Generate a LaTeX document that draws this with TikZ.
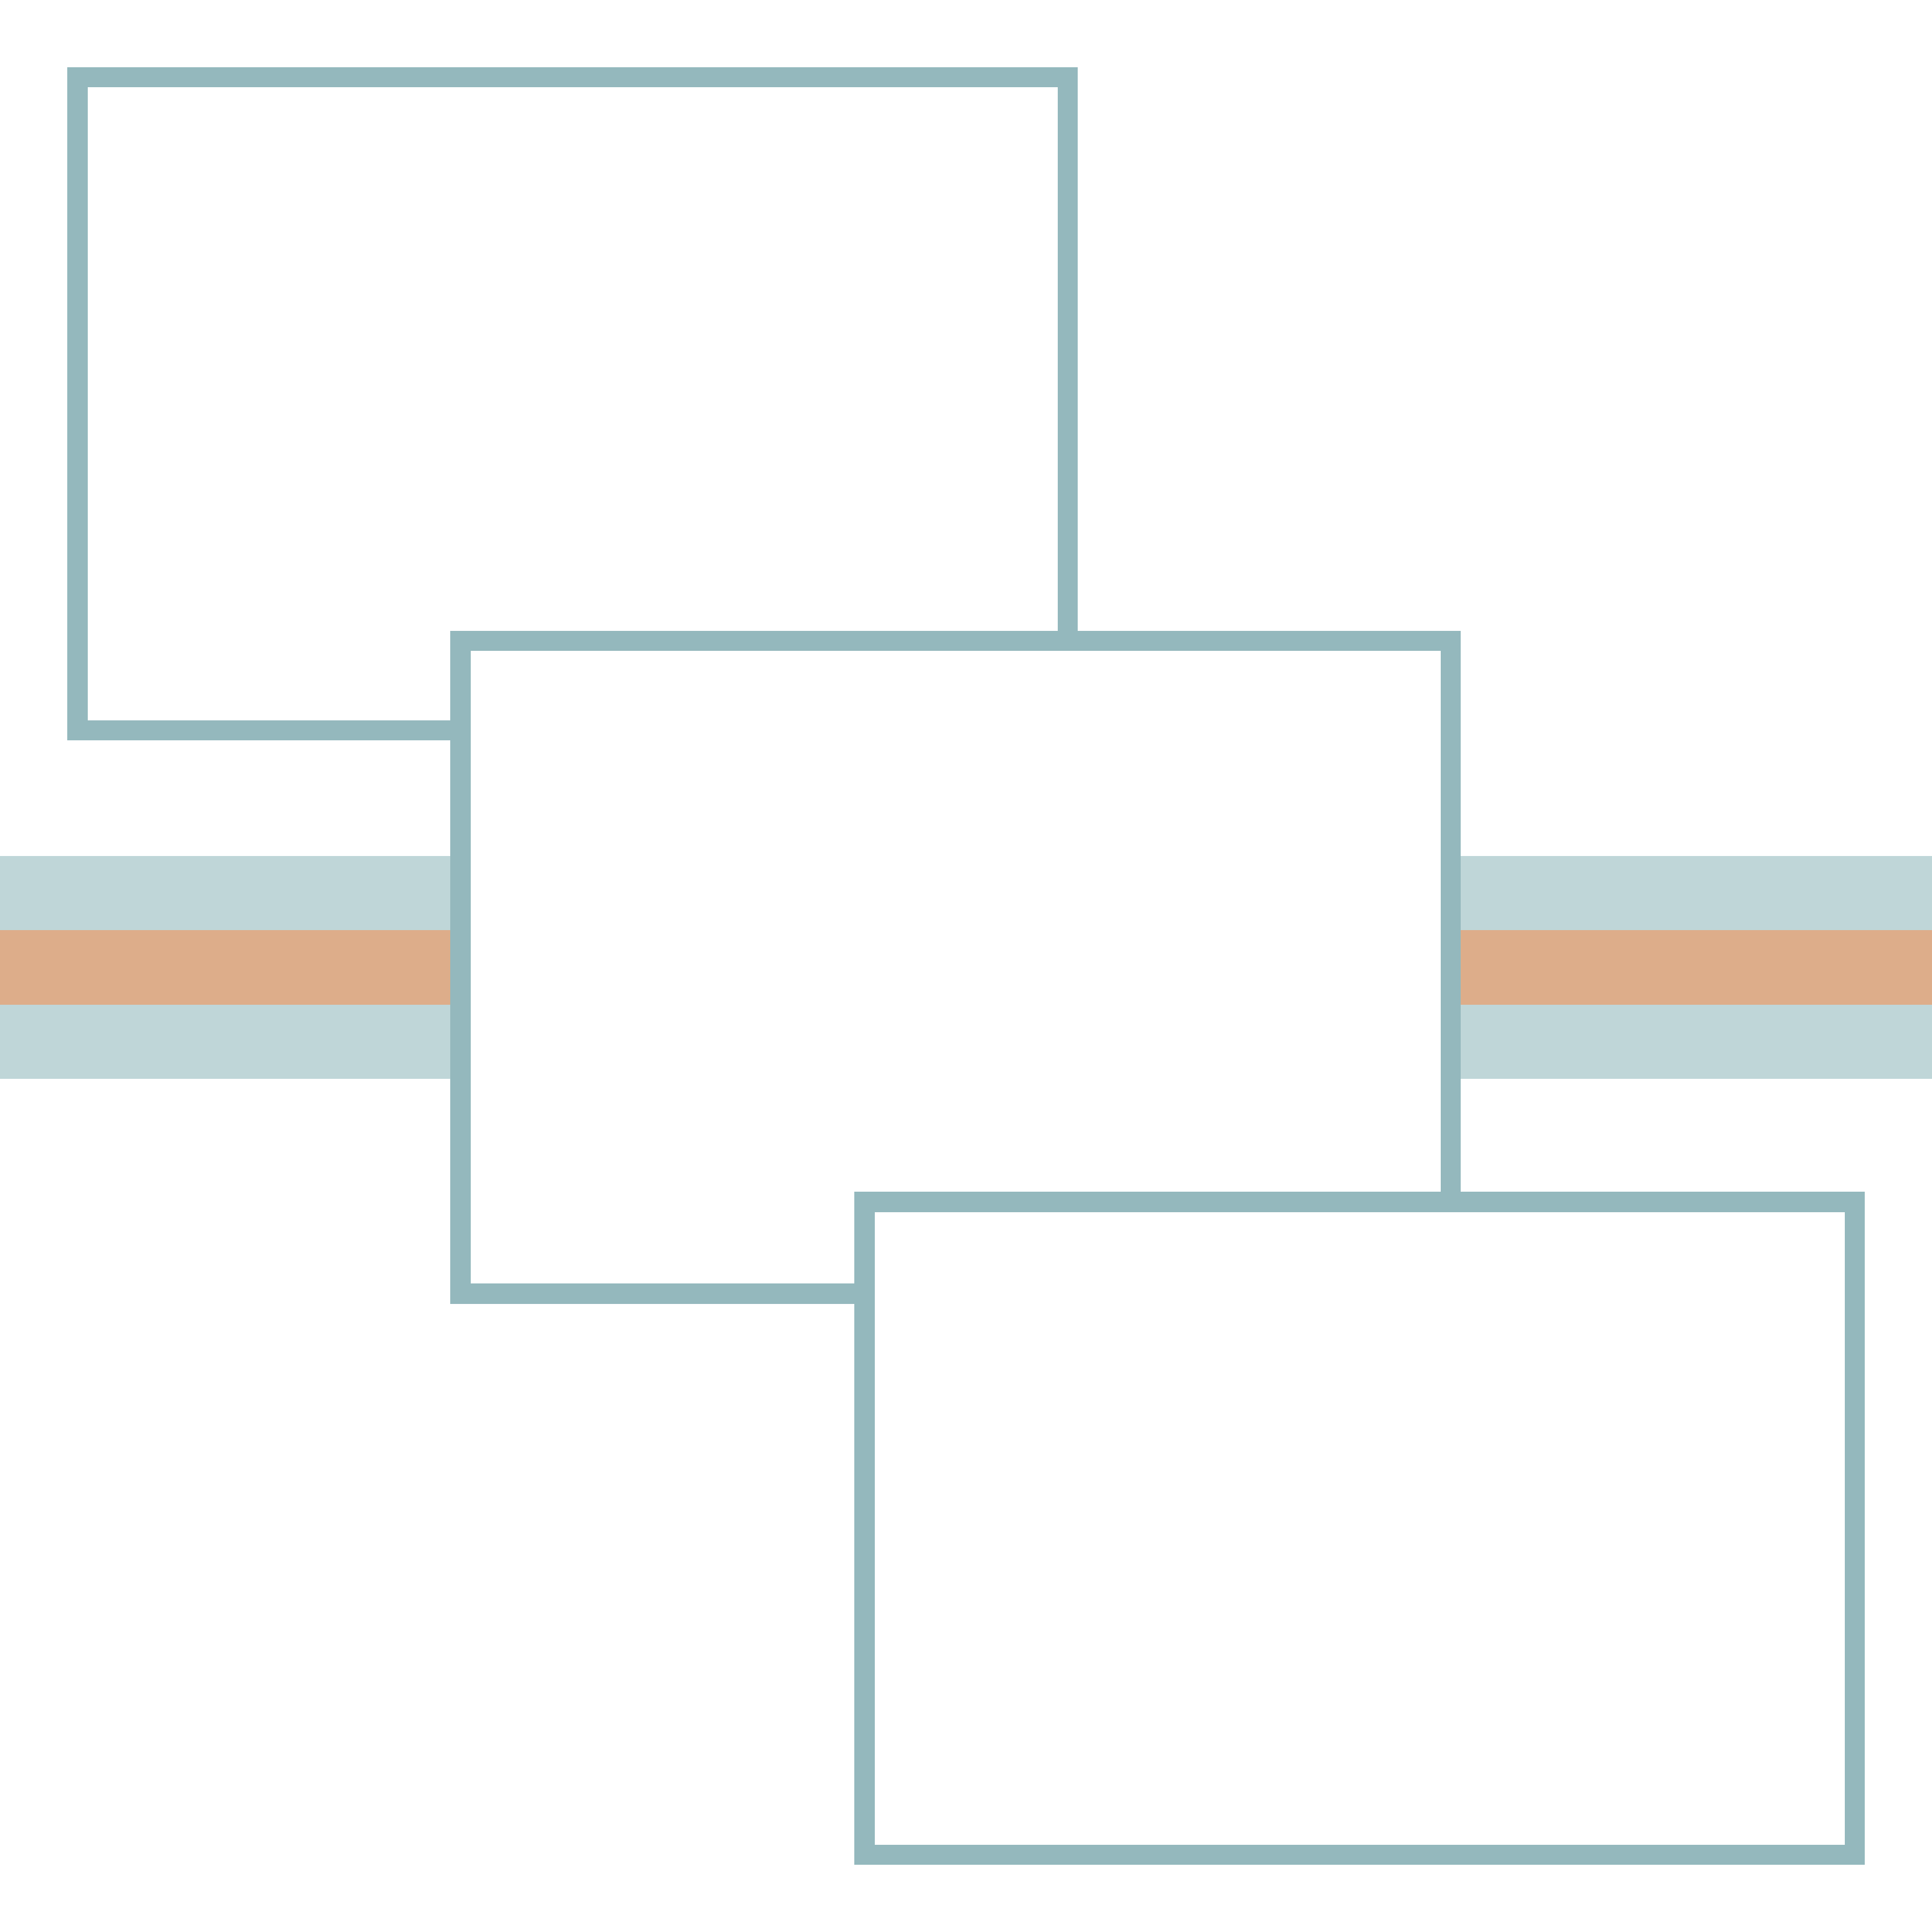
\documentclass[tikz,border=0pt]{standalone}
\definecolor{frame}{HTML}{94B8BD}
\definecolor{bandblue}{HTML}{BFD6D8}
\definecolor{bandorange}{HTML}{DDAD8A}
\tikzset{
  panel/.style={rectangle, draw=frame, fill=white, line width=0.355cm, inner sep=0pt, outer sep=0pt,
    minimum width=17.375cm, minimum height=11.455cm, anchor=north west},
}
\begin{document}
\begin{tikzpicture}
\useasboundingbox[fill=white] (0,0) rectangle (33.9,-33.9);
\node[panel] (p1) at (1.3575,-1.3575) {};
\fill[bandblue] (0,-15.017) rectangle (33.9,-16.323);
\fill[bandorange] (0,-16.323) rectangle (33.9,-17.627);
\fill[bandblue] (0,-17.627) rectangle (33.9,-18.933);
\node[panel] (p2) at (8.0775,-11.2445) {};
\node[panel] (p3) at (15.1675,-21.0875) {};
\end{tikzpicture}
\end{document}
